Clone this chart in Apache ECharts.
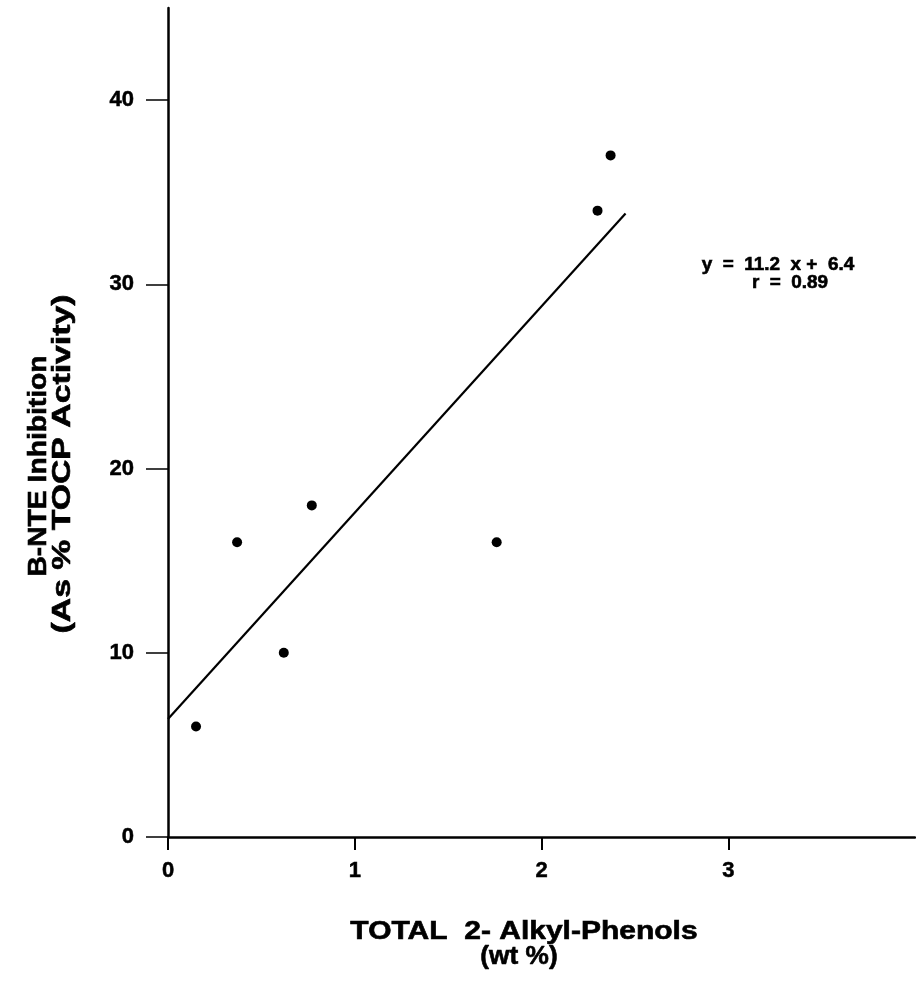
<!DOCTYPE html>
<html>
<head>
<meta charset="utf-8">
<script src="https://cdn.jsdelivr.net/npm/echarts@6/dist/echarts.min.js"></script>
<style>
html,body{margin:0;padding:0;background:#fff;}
#chart{width:916px;height:985px;}
</style>
</head>
<body>
<div id="chart"></div>
<script>
var xValues = [0.15, 0.37, 0.62, 0.77, 1.76, 2.30, 2.37];
var yValues = [6, 16, 10, 18, 16, 34, 37];
var fitSlope = 11.2;
var fitIntercept = 6.4;
var fitRange = [0, 2.45];
var xTicks = [0, 1, 2, 3];
var yTicks = [0, 10, 20, 30, 40];
var eqLines = ['y  =  11.2  x +  6.4', 'r  =  0.89'];
var xTitle = ['TOTAL  2- Alkyl-Phenols', '(wt %)'];
var yTitle = ['B-NTE Inhibition', '(As % TOCP Activity)'];

var points = xValues.map(function (x, i) { return [x, yValues[i]]; });
var fitLine = fitRange.map(function (x) { return [x, fitSlope * x + fitIntercept]; });

var font = '"Liberation Sans", Arial, Helvetica, sans-serif';
var chart = echarts.init(document.getElementById('chart'));

function txt(text, cx, cy, size, sx, rot) {
  return {
    type: 'text', x: cx, y: cy, rotation: rot || 0, scaleX: sx || 1,
    style: { text: text, fontFamily: font, fontWeight: 'bold', fontSize: size, fill: '#000',
             stroke: '#000', lineWidth: 0.6,
             textAlign: 'center', textVerticalAlign: 'middle' }
  };
}

var labelStyle = { color: '#000', fontFamily: font, fontWeight: 'bold', fontSize: 22,
                   textBorderColor: '#000', textBorderWidth: 0.5 };

chart.setOption({
  animation: false,
  backgroundColor: '#fff',
  grid: { left: 168, right: 1, top: 8, bottom: 148 },
  xAxis: {
    type: 'value', min: 0, max: 4,
    splitLine: { show: false },
    axisLine: { onZero: false, lineStyle: { color: '#000', width: 2.5 } },
    axisTick: { show: true, length: 13, customValues: xTicks, lineStyle: { color: '#000', width: 2 } },
    axisLabel: Object.assign({ customValues: xTicks, margin: 23 }, labelStyle)
  },
  yAxis: {
    type: 'value', min: 0, max: 45,
    splitLine: { show: false },
    axisLine: { onZero: false, lineStyle: { color: '#000', width: 2.5 } },
    axisTick: { show: true, length: 22, customValues: yTicks, lineStyle: { color: '#000', width: 1.5 } },
    axisLabel: Object.assign({ customValues: yTicks, margin: 34 }, labelStyle)
  },
  series: [
    {
      type: 'line', data: fitLine, symbol: 'none',
      lineStyle: { color: '#000', width: 2.2 }, silent: true
    },
    {
      type: 'scatter', data: points, symbol: 'circle', symbolSize: 10,
      itemStyle: { color: '#000', opacity: 1 }
    }
  ],
  graphic: [
    txt(eqLines[0], 778, 265, 18, 1.05),
    txt(eqLines[1], 790, 283, 18, 1.05),
    txt(xTitle[0], 524, 932, 25, 1.2),
    txt(xTitle[1], 519, 957, 25, 1.05),
    txt(yTitle[0], 39, 466, 25, 1.13, Math.PI / 2),
    txt(yTitle[1], 63, 464, 25, 1.35, Math.PI / 2)
  ]
});
</script>
</body>
</html>
